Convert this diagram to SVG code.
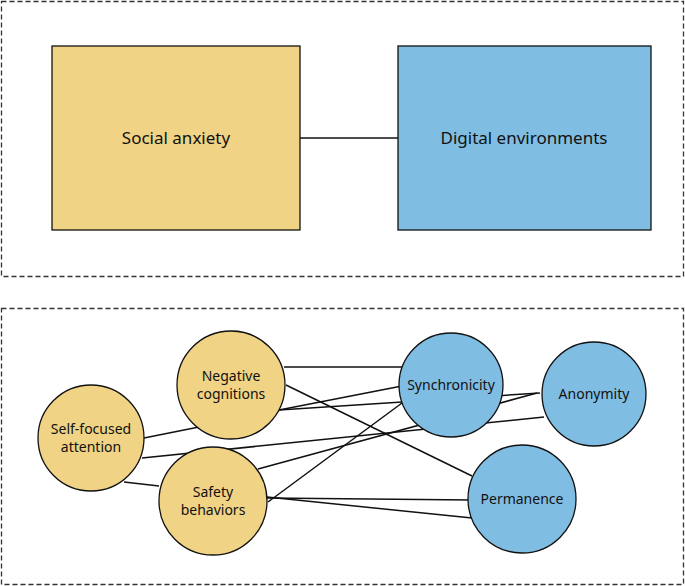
<svg xmlns="http://www.w3.org/2000/svg" width="685" height="586" viewBox="0 0 685 586">
<style>
.panel{fill:none;stroke:#333;stroke-width:1.3;stroke-dasharray:5,3}
.y{fill:#f0d384;stroke:#111;stroke-width:1.3}
.b{fill:#80bde3;stroke:#111;stroke-width:1.3}
.e line{stroke:#111;stroke-width:1.5}
text{font-family:"Noto Sans","Liberation Sans",sans-serif;fill:#111;text-anchor:middle}
.big{font-size:17px}
.sm{font-size:14px}
</style>
<rect width="685" height="586" fill="#fff"/>
<rect class="panel" x="1.5" y="1.5" width="682" height="275"/>
<rect class="panel" x="1.5" y="308.5" width="682" height="276"/>
<g class="e">
<line x1="300" y1="138" x2="398" y2="138"/>
<line x1="284" y1="367" x2="402" y2="367"/>
<line x1="286" y1="385" x2="472" y2="476"/>
<line x1="279" y1="410" x2="402" y2="386"/>
<line x1="279" y1="410" x2="540" y2="393"/>
<line x1="144" y1="438" x2="199" y2="427"/>
<line x1="142" y1="458" x2="544" y2="417"/>
<line x1="124" y1="482" x2="159" y2="486"/>
<line x1="258" y1="469" x2="537" y2="393"/>
<line x1="268" y1="502" x2="402" y2="403"/>
<line x1="267" y1="498" x2="472" y2="500"/>
<line x1="267" y1="497" x2="472" y2="518"/>
</g>
<g id="social"><rect class="y" x="52" y="46" width="248" height="184"/><text class="big" x="176" y="144">Social anxiety</text></g>
<g id="digital"><rect class="b" x="398" y="46" width="253" height="184"/><text class="big" x="524" y="144">Digital environments</text></g>
<g id="self"><circle class="y" cx="91" cy="438" r="53"/><text class="sm" x="91" y="434">Self-focused</text><text class="sm" x="91" y="452">attention</text></g>
<g id="neg"><circle class="y" cx="231" cy="385" r="54"/><text class="sm" x="231" y="381">Negative</text><text class="sm" x="231" y="399">cognitions</text></g>
<g id="safety"><circle class="y" cx="213" cy="501" r="54"/><text class="sm" x="213" y="497">Safety</text><text class="sm" x="213" y="515">behaviors</text></g>
<g id="sync"><circle class="b" cx="451" cy="385" r="52"/><text class="sm" x="451" y="390">Synchronicity</text></g>
<g id="anon"><circle class="b" cx="594" cy="394" r="52"/><text class="sm" x="594" y="399">Anonymity</text></g>
<g id="perm"><circle class="b" cx="522" cy="499" r="54"/><text class="sm" x="522" y="504">Permanence</text></g>
</svg>
